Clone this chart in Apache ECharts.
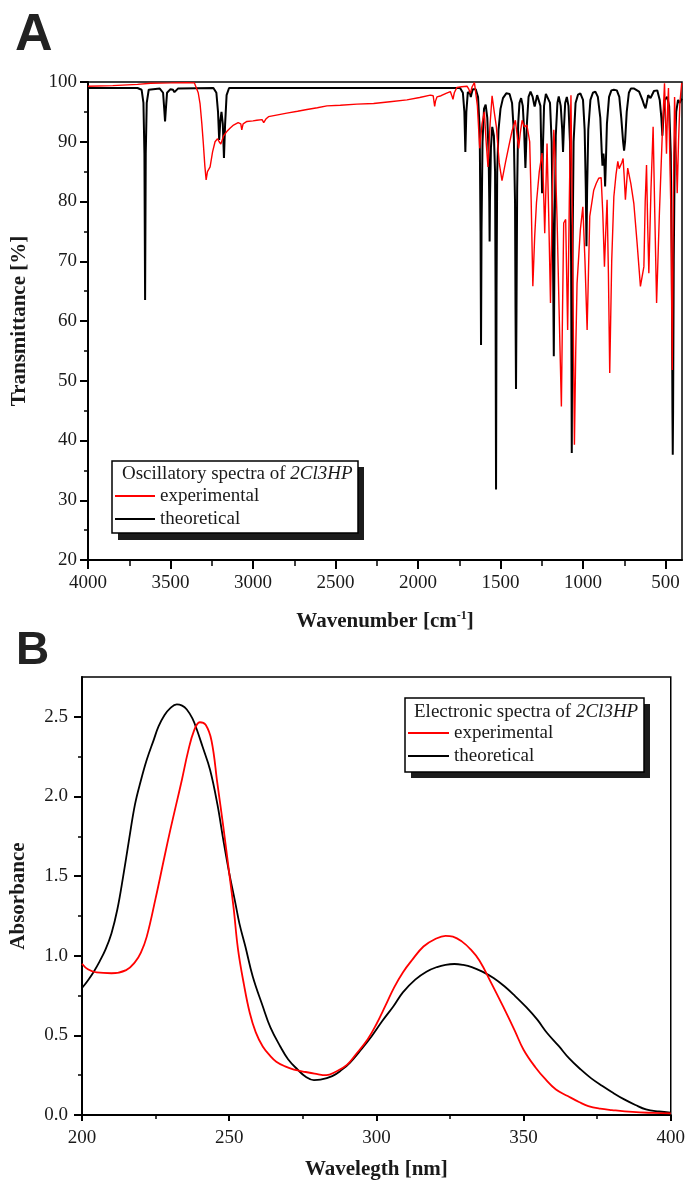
<!DOCTYPE html>
<html>
<head>
<meta charset="utf-8">
<script src="https://cdn.jsdelivr.net/npm/echarts@6/dist/echarts.min.js"></script>
<style>
    html, body {margin: 0; padding: 0; background: #fff;}
    #chart {width: 688px; height: 1185px;}
</style>
</head>
<body>
<div id="chart"></div>
<script>
// panel A: IR spectra [wavenumber cm-1, transmittance %]
const irExperimental = [
    [4000, 99.3], [3850, 99.4], [3700, 99.6], [3620, 99.8], [3500, 99.85], [3400, 99.9], [3355, 99.85],
    [3345, 99.6], [3332, 98.2], [3321, 96.4], [3310, 93], [3301, 89.7], [3292, 86], [3284, 83.6],
    [3276, 85], [3268, 85.3], [3260, 85.8], [3245, 88.3], [3230, 90], [3215, 90.5], [3205, 90],
    [3195, 89.6], [3178, 91], [3159, 91.7], [3138, 92.3], [3118, 92.8], [3090, 93.2], [3074, 93.0],
    [3068, 92], [3065, 91.7], [3060, 93], [3037, 93.4], [3000, 93.5], [2977, 93.6], [2945, 93.7],
    [2935, 93.2], [2930, 93.1], [2922, 93.8], [2906, 94.2], [2850, 94.5], [2795, 94.8], [2730, 95.1],
    [2673, 95.4], [2610, 95.7], [2552, 96.0], [2471, 96.1], [2370, 96.3], [2269, 96.4], [2170, 96.7],
    [2067, 97.0], [1990, 97.4], [1925, 97.8], [1908, 97.7], [1902, 96.5], [1899, 95.9], [1894, 96.8],
    [1885, 97.5], [1860, 97.7], [1830, 98.1], [1804, 98.4], [1796, 97.8], [1788, 97.1], [1780, 98.2],
    [1764, 99.1], [1735, 99.2], [1703, 99.3], [1692, 98.8], [1683, 98.1], [1672, 99.2], [1658, 99.9],
    [1652, 99.9], [1640, 96], [1626, 88.9], [1612, 93], [1598, 95.0], [1587, 90], [1576, 85.8],
    [1563, 93], [1551, 97.7], [1538, 95], [1525, 92.5], [1508, 86.5], [1491, 83.5], [1470, 86.5],
    [1450, 89.2], [1430, 91.8], [1410, 93.6], [1399, 91], [1390, 88.9], [1380, 91.5], [1369, 93.6],
    [1355, 92.5], [1340, 92.8], [1323, 90], [1314, 80], [1304, 65.8], [1293, 74], [1282, 79.8],
    [1265, 85], [1248, 88.1], [1240, 83], [1232, 74.7], [1225, 82], [1218, 89.7], [1208, 78],
    [1197, 63], [1188, 78], [1177, 92], [1168, 87], [1157, 76.9], [1145, 62], [1131, 45.7],
    [1124, 62], [1117, 76.4], [1105, 77], [1093, 58.5], [1083, 80], [1073, 97.8], [1064, 75],
    [1052, 39.3], [1044, 55], [1036, 66.3], [1016, 75.3], [1001, 79.1], [988, 70], [975, 58.5],
    [967, 68], [959, 77.5], [935, 81.9], [920, 83], [905, 83.9], [890, 84], [880, 78], [870, 69.1],
    [862, 75], [854, 80.3], [846, 68], [838, 51.3], [826, 70], [813, 80.8], [800, 84.5], [789, 86.7],
    [781, 85.5], [773, 85.3], [765, 86.5], [757, 87.2], [750, 84], [743, 80.3], [736, 83], [729, 85.6],
    [710, 83], [692, 79.7], [672, 73], [652, 65.8], [641, 66], [631, 69.1], [623, 80], [615, 86.1],
    [608, 76], [601, 68], [588, 82], [575, 92.5], [565, 78], [554, 63], [537, 78], [520, 90.9],
    [512, 96], [506, 99.8], [500, 94], [494, 88], [488, 95], [482, 99], [474, 98.7], [467, 78],
    [459, 51.8], [453, 80], [445, 97.5], [437, 90], [429, 81.4], [421, 90], [413, 96.4], [402, 99.8],
    [400, 99.6]
];
const irTheoretical = [
    [4000, 99.0], [3700, 99.0], [3675, 98.7], [3664, 96.5], [3658, 88], [3654, 63.5], [3650, 88],
    [3644, 96.5], [3632, 98.7], [3565, 98.9], [3545, 98.2], [3538, 95.5], [3533, 93.4], [3528, 95.5],
    [3521, 98.2], [3500, 98.8], [3485, 98.7], [3476, 98.3], [3472, 98.1], [3467, 98.4], [3455, 98.9],
    [3240, 99.0], [3222, 98.2], [3212, 95], [3205, 90.3], [3198, 93.5], [3191, 95], [3183, 93],
    [3176, 87.3], [3169, 93], [3160, 97.8], [3145, 99.0],
    [1745, 99.0], [1728, 98.2], [1719, 95], [1713, 88.3], [1707, 95], [1698, 98.3], [1690, 98.6],
    [1684, 98], [1680, 97.5], [1676, 98], [1668, 98.8], [1650, 98.8], [1636, 97.5], [1626, 92],
    [1621, 75], [1618, 56], [1615, 75], [1609, 90], [1600, 95.5], [1590, 96.2], [1580, 94],
    [1572, 88], [1568, 80], [1566, 73.3], [1564, 80], [1558, 89], [1550, 92.5], [1540, 91],
    [1533, 85], [1530, 65], [1527, 31.8], [1524, 65], [1520, 85], [1512, 92], [1500, 95.5],
    [1485, 97.3], [1465, 98.1], [1445, 98.0], [1430, 96.5], [1420, 92], [1412, 80], [1409, 62],
    [1406, 48.6], [1403, 62], [1399, 82], [1393, 93], [1385, 96.5], [1375, 97.3], [1365, 96],
    [1357, 92], [1352, 88], [1349, 85.6], [1346, 88], [1340, 93], [1330, 97.5], [1318, 98.4],
    [1305, 97.5], [1298, 96.5], [1293, 95.9], [1288, 96.5], [1278, 97.8], [1268, 98.1], [1258, 96],
    [1253, 89], [1248, 81.4], [1243, 89], [1236, 96], [1225, 98.0], [1214, 98.1], [1200, 96.5],
    [1190, 90], [1183, 75], [1177, 54.1], [1172, 75], [1165, 91], [1155, 96.5], [1147, 97.6],
    [1135, 96], [1126, 92], [1121, 88.3], [1116, 92], [1108, 96.5], [1098, 97.5], [1088, 96],
    [1079, 90], [1072, 70], [1068, 37.9], [1064, 70], [1057, 90], [1045, 96.5], [1030, 97.9],
    [1016, 98.1], [1000, 97], [990, 92], [983, 82], [979, 72.5], [975, 82], [968, 92], [955, 97],
    [940, 98.2], [925, 98.4], [910, 97.5], [895, 94], [886, 88], [882, 86], [876, 88], [870, 86],
    [866, 82.5], [862, 86], [855, 93], [842, 97.5], [828, 98.6], [813, 98.7], [795, 98.6],
    [780, 97.5], [768, 94], [757, 90], [751, 88.5], [745, 90], [735, 95], [722, 98.2], [710, 98.9],
    [690, 98.9], [660, 98.4], [640, 97], [628, 96], [621, 95.6], [614, 96.5], [605, 97.8],
    [598, 97.6], [591, 97.3], [584, 97.7], [570, 98.5], [550, 98.6], [535, 97], [525, 94],
    [519, 91], [514, 93.5], [505, 97], [490, 97.5], [478, 96], [468, 88], [462, 70], [458, 45],
    [456, 37.6], [454, 45], [450, 70], [444, 88], [435, 95], [424, 97], [415, 96.5], [405, 97],
    [400, 97.2]
];
const irMajorTicks = [4000, 3500, 3000, 2500, 2000, 1500, 1000, 500];
const irMinorTicks = [3750, 3250, 2750, 2250, 1750, 1250, 750];

// panel B: UV-Vis spectra [wavelength nm, absorbance]
const uvExperimental = [
    [200, 0.95], [202, 0.915], [205, 0.895], [210, 0.89], [215, 0.91], [218, 0.96], [220, 1.02],
    [222, 1.12], [225, 1.36], [228, 1.62], [230, 1.79], [232, 1.95], [234, 2.11], [236, 2.28],
    [238, 2.41], [240, 2.466], [242, 2.45], [244, 2.35], [246, 2.08], [248, 1.81], [250, 1.52],
    [251.5, 1.3], [253, 1.04], [255, 0.82], [257, 0.64], [259, 0.52], [261.4, 0.43], [264, 0.37],
    [266, 0.335], [269, 0.305], [272, 0.285], [276, 0.27], [279, 0.26], [283, 0.25], [286, 0.27],
    [290, 0.315], [293, 0.38], [297, 0.474], [300, 0.57], [303, 0.683], [306, 0.8], [309, 0.895],
    [312, 0.97], [316, 1.058], [320, 1.105], [323.5, 1.125], [326, 1.12], [329, 1.09], [332, 1.04],
    [335, 0.97], [339, 0.83], [343, 0.683], [347, 0.53], [350, 0.41], [354, 0.3], [357.5, 0.223],
    [361, 0.16], [365, 0.119], [369, 0.08], [372, 0.056], [376, 0.04], [380, 0.031], [387, 0.019],
    [394, 0.013], [400, 0.01]
];
const uvTheoretical = [
    [200, 0.797], [202, 0.845], [204, 0.9], [206, 0.965], [208, 1.04], [210, 1.14], [212, 1.29],
    [214, 1.5], [216, 1.73], [218, 1.95], [220, 2.1], [222, 2.23], [224.4, 2.357], [226, 2.44],
    [228, 2.51], [230, 2.555], [232.2, 2.578], [234, 2.57], [235.6, 2.546], [237.5, 2.49], [239, 2.42],
    [241, 2.31], [243.5, 2.168], [246, 1.95], [248, 1.727], [250, 1.52], [252, 1.34], [253.5, 1.2],
    [255.5, 1.058], [258, 0.87], [261.4, 0.683], [264, 0.55], [267.3, 0.432], [270, 0.35],
    [273.2, 0.286], [276, 0.24], [278.8, 0.219], [281, 0.222], [285, 0.244], [288, 0.28], [291, 0.328],
    [295, 0.415], [298.4, 0.495], [302, 0.59], [305.8, 0.683], [309, 0.77], [313.2, 0.85], [317, 0.9],
    [320.6, 0.929], [323.5, 0.943], [326.5, 0.948], [329.5, 0.942], [332.4, 0.929], [336, 0.9],
    [339.8, 0.86], [343.5, 0.808], [347.2, 0.745], [351, 0.675], [354.6, 0.6], [358, 0.515], [362, 0.432],
    [365.5, 0.355], [369.4, 0.286], [373, 0.23], [376.8, 0.182], [380.5, 0.138], [384.2, 0.098],
    [388, 0.063], [391.6, 0.035], [396, 0.022], [400, 0.015]
];
const uvMajorTicks = [0, 0.5, 1.0, 1.5, 2.0, 2.5];
const uvMinorTicks = [0.25, 0.75, 1.25, 1.75, 2.25];

const serif = '"Liberation Serif", "Times New Roman", serif';
const ink = '#1a1a1a';

const labelStyle = (margin) => ({
    fontFamily: serif, fontSize: 19, color: ink, margin: margin
});
const lineOf = (w) => ({show: true, lineStyle: {color: '#000', width: w}});
const boldName = {fontFamily: serif, fontSize: 21, fontWeight: 'bold', color: ink};

let chart = echarts.init(document.getElementById('chart'), null, {renderer: 'canvas'});

let option = {
    animation: false,
    backgroundColor: '#fff',
    grid: [
        {left: 88, top: 82, width: 594, height: 478, show: true, borderColor: '#000', borderWidth: 1.5, backgroundColor: 'transparent'},
        {left: 81, top: 677, width: 593, height: 438, show: true, borderColor: '#000', borderWidth: 1.5, backgroundColor: 'transparent'}
    ],
    xAxis: [
        {
            gridIndex: 0, type: 'value', min: 400, max: 4000, inverse: true, position: 'bottom',
            axisLine: lineOf(2),
            axisTick: {show: true, inside: false, length: 9, customValues: irMajorTicks, lineStyle: {color: '#000', width: 2}},
            axisLabel: {...labelStyle(14), customValues: irMajorTicks, formatter: (v) => String(v)},
            splitLine: {show: false},
            name: '{b|Wavenumber [cm}{s|-1}{b|]}', nameLocation: 'middle', nameGap: 50, nameMoveOverlap: false,
            nameTextStyle: {
                rich: {
                    b: {...boldName, lineHeight: 24},
                    s: {fontFamily: serif, fontSize: 12, fontWeight: 'bold', color: ink, verticalAlign: 'top', lineHeight: 12}
                }
            }
        },
        {
            gridIndex: 0, type: 'value', min: 400, max: 4000, inverse: true, position: 'bottom',
            axisLine: {show: false},
            axisTick: {show: true, inside: false, length: 6, customValues: irMinorTicks, lineStyle: {color: '#000', width: 1.5}},
            axisLabel: {show: false},
            splitLine: {show: false}
        },
        {
            gridIndex: 1, type: 'value', min: 200, max: 400, interval: 50, position: 'bottom',
            axisLine: lineOf(2),
            axisTick: {show: true, inside: false, length: 6, lineStyle: {color: '#000', width: 2}},
            minorTick: {show: true, splitNumber: 2, length: 4, lineStyle: {color: '#000', width: 1.5}},
            axisLabel: labelStyle(14),
            splitLine: {show: false},
            minorSplitLine: {show: false},
            name: 'Wavelegth [nm]', nameLocation: 'middle', nameGap: 44, nameMoveOverlap: false,
            nameTextStyle: boldName
        }
    ],
    yAxis: [
        {
            gridIndex: 0, type: 'value', min: 20, max: 100, interval: 10, position: 'left',
            axisLine: lineOf(2),
            axisTick: {show: true, inside: false, length: 8, lineStyle: {color: '#000', width: 2}},
            minorTick: {show: true, splitNumber: 2, length: 4, lineStyle: {color: '#000', width: 1.5}},
            axisLabel: labelStyle(11),
            splitLine: {show: false},
            minorSplitLine: {show: false},
            name: 'Transmittance [%]', nameLocation: 'middle', nameGap: 58, nameMoveOverlap: false,
            nameTextStyle: boldName
        },
        {
            gridIndex: 1, type: 'value', min: 0, max: 2.75, position: 'left',
            axisLine: lineOf(2),
            axisTick: {show: true, inside: false, length: 8, customValues: uvMajorTicks, lineStyle: {color: '#000', width: 2}},
            axisLabel: {...labelStyle(14), customValues: uvMajorTicks, formatter: (v) => Number(v).toFixed(1)},
            splitLine: {show: false},
            name: 'Absorbance', nameLocation: 'middle', nameGap: 53, nameMoveOverlap: false,
            nameTextStyle: boldName
        },
        {
            gridIndex: 1, type: 'value', min: 0, max: 2.75, position: 'left',
            axisLine: {show: false},
            axisTick: {show: true, inside: false, length: 4, customValues: uvMinorTicks, lineStyle: {color: '#000', width: 1.5}},
            axisLabel: {show: false},
            splitLine: {show: false}
        }
    ],
    legend: [
        {
            data: ['experimental', 'theoretical'], orient: 'vertical', left: 115, top: 485,
            icon: 'rect', itemWidth: 40, itemHeight: 2, itemGap: 1, padding: 0, selectedMode: false, z: 30,
            textStyle: {fontFamily: serif, fontSize: 19, color: ink, lineHeight: 22}
        },
        {
            data: ['experimental', 'theoretical'], orient: 'vertical', left: 408, top: 722,
            icon: 'rect', itemWidth: 41, itemHeight: 2, itemGap: 1, padding: 0, selectedMode: false, z: 30,
            textStyle: {fontFamily: serif, fontSize: 19, color: ink, lineHeight: 22}
        }
    ],
    graphic: [
        {type: 'text', x: 15, y: 36, z: 40, style: {text: 'A', font: 'bold 52px "Liberation Sans"', fill: '#222', align: 'left', verticalAlign: 'middle'}},
        {type: 'text', x: 16, y: 651, z: 40, style: {text: 'B', font: 'bold 46px "Liberation Sans"', fill: '#222', align: 'left', verticalAlign: 'middle'}},
        // legend box A
        {type: 'rect', z: 20, shape: {x: 118, y: 467, width: 246, height: 73}, style: {fill: '#1c1c1c'}},
        {type: 'rect', z: 21, shape: {x: 112, y: 461, width: 246, height: 72}, style: {fill: '#fff', stroke: '#000', lineWidth: 1.5}},
        {
            type: 'text', x: 122, y: 474, z: 31,
            style: {
                text: '{n|Oscillatory spectra of }{i|2Cl3HP}', align: 'left', verticalAlign: 'middle',
                rich: {
                    n: {fontFamily: serif, fontSize: 19, fill: ink},
                    i: {fontFamily: serif, fontSize: 19, fontStyle: 'italic', fill: ink}
                }
            }
        },
        // legend box B
        {type: 'rect', z: 20, shape: {x: 411, y: 704, width: 239, height: 74}, style: {fill: '#1c1c1c'}},
        {type: 'rect', z: 21, shape: {x: 405, y: 698, width: 239, height: 74}, style: {fill: '#fff', stroke: '#000', lineWidth: 1.5}},
        {
            type: 'text', x: 414, y: 712, z: 31,
            style: {
                text: '{n|Electronic spectra of }{i|2Cl3HP}', align: 'left', verticalAlign: 'middle',
                rich: {
                    n: {fontFamily: serif, fontSize: 19, fill: ink},
                    i: {fontFamily: serif, fontSize: 19, fontStyle: 'italic', fill: ink}
                }
            }
        }
    ],
    series: [
        {
            name: 'theoretical', type: 'line', xAxisIndex: 0, yAxisIndex: 0, data: irTheoretical,
            symbol: 'none', color: '#000', lineStyle: {color: '#000', width: 2}, z: 2
        },
        {
            name: 'experimental', type: 'line', xAxisIndex: 0, yAxisIndex: 0, data: irExperimental,
            symbol: 'none', color: '#ff0000', lineStyle: {color: '#ff0000', width: 1.4}, z: 3
        },
        {
            name: 'theoretical', type: 'line', xAxisIndex: 2, yAxisIndex: 1, data: uvTheoretical,
            symbol: 'none', smooth: 0.4, color: '#000', lineStyle: {color: '#000', width: 1.8}, z: 2
        },
        {
            name: 'experimental', type: 'line', xAxisIndex: 2, yAxisIndex: 1, data: uvExperimental,
            symbol: 'none', smooth: 0.4, color: '#ff0000', lineStyle: {color: '#ff0000', width: 1.8}, z: 3
        }
    ]
};

chart.setOption(option);
</script>
</body>
</html>
